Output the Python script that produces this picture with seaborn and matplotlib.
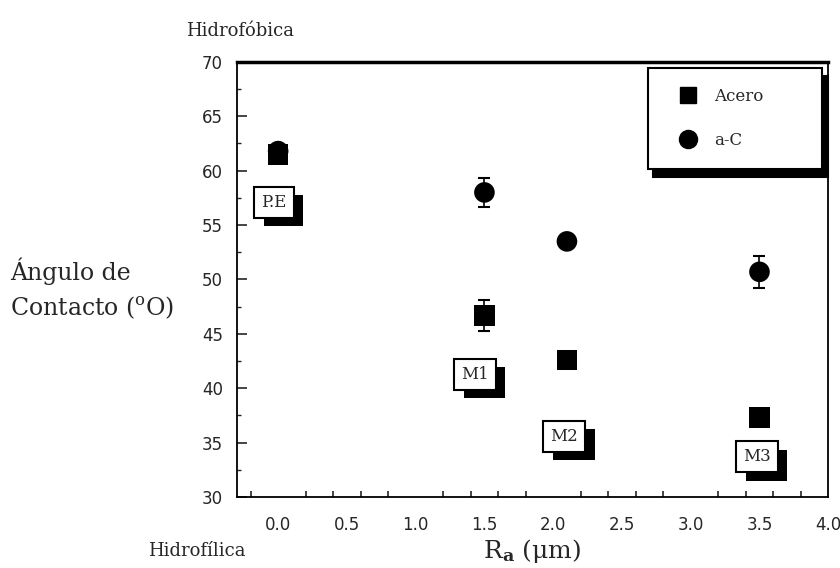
import matplotlib
matplotlib.use("Agg")
import matplotlib.pyplot as plt
import matplotlib.patheffects as pe
from matplotlib.lines import Line2D
import seaborn as sns
import pandas as pd
import numpy as np

# ---- data ----
ra = [0.0, 1.5, 2.1, 3.5]
acero = [61.5, 46.7, 42.6, 37.3]
acero_err = [0.6, 1.4, 0.6, 0.4]
ac = [61.8, 58.0, 53.5, 50.7]
ac_err = [0.6, 1.3, 0.5, 1.5]
sample_labels = ["P.E", "M1", "M2", "M3"]
label_x = [-0.03, 1.43, 2.08, 3.48]
label_y = [57.1, 41.3, 35.6, 33.7]
x_ticklabels = ["0.0", "0.5", "1.0", "1.5", "2.0", "2.5", "3.0", "3.5", "4.0"]
y_ticklabels = ["30", "35", "40", "45", "50", "55", "60", "65", "70"]

sns.set_style("white")
plt.rcParams["font.family"] = ["DejaVu Serif", "DejaVu Sans"]
plt.rcParams["mathtext.fontset"] = "dejavuserif"

df = pd.DataFrame({
    "Ra": ra * 2,
    "angle": acero + ac,
    "serie": ["Acero"] * len(ra) + ["a-C"] * len(ra),
})

fig = plt.figure(figsize=(8.4, 5.68), dpi=100)
ax = fig.add_axes([0.282, 0.125, 0.704, 0.766])

ax.errorbar(ra, acero, yerr=acero_err, fmt="none", ecolor="black",
            elinewidth=1.2, capsize=4, capthick=1.5, zorder=2)
ax.errorbar(ra, ac, yerr=ac_err, fmt="none", ecolor="black",
            elinewidth=1.2, capsize=4, capthick=1.5, zorder=2)
sns.scatterplot(data=df, x="Ra", y="angle", style="serie",
                markers={"Acero": "s", "a-C": "o"}, color="black",
                s=220, edgecolor="black", linewidth=0, ax=ax, legend=False,
                zorder=3)

ax.set_xlim(-0.3, 4.0)
ax.set_ylim(30, 70)
ax.set_xticks(np.arange(-0.2, 3.81, 0.2), minor=True)
ax.set_xticks(np.arange(0, 4.01, 0.5))
ax.set_xticklabels(x_ticklabels, family="DejaVu Sans")
ax.set_yticks(np.arange(30, 70.1, 5))
ax.set_yticklabels(y_ticklabels, family="DejaVu Sans")
ax.set_yticks(np.arange(30, 70.1, 2.5), minor=True)
ax.tick_params(axis="x", which="major", direction="in", length=0, pad=14,
               labelsize=12)
ax.tick_params(axis="x", which="minor", direction="in", length=4, width=1.2,
               bottom=True)
ax.tick_params(axis="y", which="major", direction="in", length=7, width=1.2,
               pad=10, labelsize=12, left=True)
ax.tick_params(axis="y", which="minor", direction="in", length=3, width=1,
               left=True)
for side in ["left", "bottom", "right"]:
    ax.spines[side].set_color("black")
    ax.spines[side].set_linewidth(1.3)
ax.spines["top"].set_color("black")
ax.spines["top"].set_linewidth(2.5)

ax.set_xlabel(r"R$_{\mathbf{a}}$ (μm)", fontsize=18, labelpad=2)
ax.set_ylabel("")

for txt, lx, ly in zip(sample_labels, label_x, label_y):
    t = ax.text(lx, ly, txt, ha="center", va="center", fontsize=12,
                zorder=5,
                bbox=dict(boxstyle="square,pad=0.42", fc="white",
                          ec="black", lw=1.5))
    t.get_bbox_patch().set_path_effects([
        pe.SimplePatchShadow(offset=(7, -6), shadow_rgbFace="black",
                             alpha=1.0),
        pe.Normal()])

handles = [
    Line2D([], [], marker="s", color="black", linestyle="none",
           markersize=12, label="Acero"),
    Line2D([], [], marker="o", color="black", linestyle="none",
           markersize=13, label="a-C"),
]
leg = ax.legend(handles=handles, loc="upper left",
                bbox_to_anchor=(0.695, 0.986, 0.295, 0.0), mode="expand",
                frameon=True, fancybox=False,
                edgecolor="black", fontsize=12, labelspacing=1.6,
                borderpad=1.2, handletextpad=0.4, borderaxespad=0.0,
                handlelength=2.4,
                shadow={"color": "black", "alpha": 1.0, "ox": 4, "oy": -6})
leg.get_frame().set_linewidth(1.5)
leg.get_frame().set_alpha(1.0)

fig.text(0.221, 0.945, "Hidrofóbica", fontsize=13, ha="left", va="center")
fig.text(0.176, 0.03, "Hidrofílica", fontsize=13, ha="left", va="center")
fig.text(0.012, 0.49, "Ángulo de\nContacto ($^{\\mathrm{o}}$O)",
         fontsize=17, ha="left", va="center", linespacing=1.45)

fig.savefig("out.png", dpi=100)
